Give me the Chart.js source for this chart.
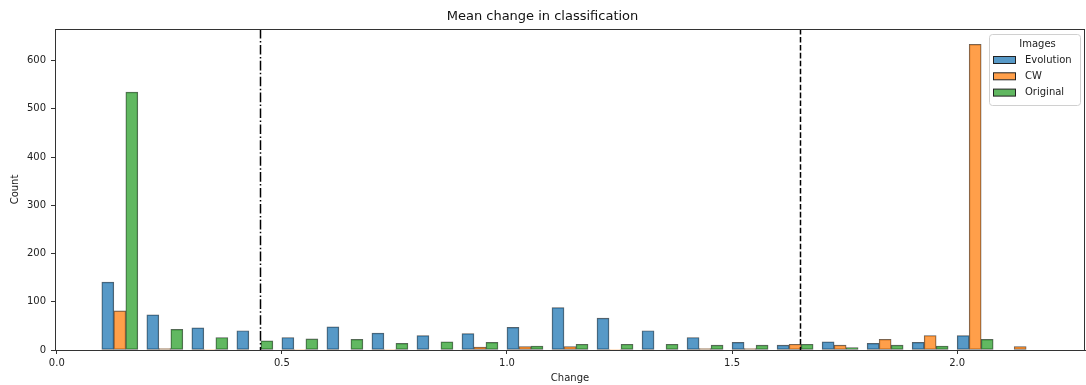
<!DOCTYPE html>
<html>
<head>
<meta charset="utf-8">
<script src="https://cdn.jsdelivr.net/npm/chart.js@4.4.1/dist/chart.umd.min.js"></script>
<style>
  html, body { margin: 0; padding: 0; background: #fff; }
  #wrap { width: 1086px; height: 385px; position: relative; }
</style>
</head>
<body>
<div id="wrap"><canvas id="c" width="1086" height="385"></canvas></div>
<script>
// ---- data ----
const binStarts = [0.1,0.2,0.3,0.4,0.5,0.6,0.7,0.8,0.9,1.0,1.1,1.2,1.3,1.4,1.5,1.6,1.7,1.8,1.9,2.0,2.1];
const evolution = [141,73,46,40,26,48,35,30,34,47,88,66,40,26,16,10,17,14,16,30,0];
const cw        = [81,3,1,0,1,0,1,0,6,7,7,1,0,3,3,12,10,22,30,634,7];
const original  = [535,43,26,19,23,22,14,17,16,8,12,12,12,10,10,12,5,10,8,22,0];
const seriesNames = ['Evolution','CW','Original'];
const xTicks = [0.0,0.5,1.0,1.5,2.0];
const yTicks = [0,100,200,300,400,500,600];
const thresholds = [0.451, 1.65];

const fills = ['rgba(31,119,180,0.75)','rgba(255,127,14,0.75)','rgba(44,160,44,0.75)'];
const edge = 'rgba(40,40,40,0.75)';
const groupWidth = 0.08;
const xMin = -0.004, xMax = 2.284, yMax = 665.7;

function pts(vals, k) {
  const w = groupWidth / 3;
  return vals.map((v, i) => ({ x: binStarts[i] + w * (k + 0.5), y: v }));
}
const allSeries = [evolution, cw, original];
const datasets = allSeries.map((vals, k) => ({
  label: seriesNames[k],
  data: pts(vals, k),
  backgroundColor: fills[k],
  borderColor: edge,
  borderWidth: 0.8,
  grouped: false,
  barThickness: 12,
  borderSkipped: false
}));

const FONT = 'DejaVu Sans';
const extras = {
  id: 'extras',
  afterDatasetsDraw(chart) {
    const {ctx, chartArea: a, scales: {x, y}} = chart;
    ctx.save();
    // threshold lines
    ctx.strokeStyle = '#000';
    ctx.lineWidth = 1.5;
    const dashes = [[9.6,2.4,1.5,2.4],[5.55,2.4]];
    thresholds.forEach((t, i) => {
      const px = Math.round(x.getPixelForValue(t)) + 0.5;
      ctx.setLineDash(dashes[i]);
      ctx.beginPath(); ctx.moveTo(px, a.top); ctx.lineTo(px, a.bottom); ctx.stroke();
    });
    ctx.setLineDash([]);
    // frame
    ctx.strokeStyle = '#333';
    ctx.lineWidth = 1;
    ctx.strokeRect(a.left + 0.5, a.top + 0.5, a.right - a.left - 1, a.bottom - a.top);
    // legend
    const lx = 989, ly = 34, lw = 91, lh = 71;
    ctx.fillStyle = 'rgba(255,255,255,0.85)';
    ctx.strokeStyle = '#d0d0d0';
    ctx.beginPath();
    if (ctx.roundRect) ctx.roundRect(lx + 0.5, ly + 0.5, lw, lh, 3); else ctx.rect(lx + 0.5, ly + 0.5, lw, lh);
    ctx.fill(); ctx.stroke();
    ctx.fillStyle = '#222';
    ctx.font = '10px "' + FONT + '"';
    ctx.textBaseline = 'middle';
    ctx.textAlign = 'center';
    ctx.fillText('Images', lx + lw / 2 + 3, ly + 10);
    ctx.textAlign = 'left';
    seriesNames.forEach((n, i) => {
      const cy = ly + 26 + i * 16.3;
      ctx.fillStyle = '#fff';
      ctx.fillRect(993, cy - 3.5, 22, 7);
      ctx.fillStyle = fills[i];
      ctx.fillRect(993, cy - 3.5, 22, 7);
      ctx.strokeStyle = '#222';
      ctx.lineWidth = 1;
      ctx.strokeRect(993.5, cy - 3.5, 22, 7);
      ctx.fillStyle = '#222';
      ctx.fillText(n, 1025, cy);
    });
    ctx.restore();
  }
};

new Chart(document.getElementById('c'), {
  type: 'bar',
  data: { datasets },
  options: {
    responsive: false,
    animation: false,
    layout: { padding: { left: 0, right: 1, top: 0, bottom: 0 } },
    plugins: {
      legend: { display: false },
      tooltip: { enabled: false },
      title: {
        display: true,
        text: 'Mean change in classification',
        color: '#111',
        font: { family: FONT, size: 13, weight: 'normal', lineHeight: 1.2 },
        padding: { top: 9, bottom: 4.4 }
      }
    },
    scales: {
      x: {
        type: 'linear',
        min: xMin, max: xMax,
        offset: false,
        afterBuildTicks(s) { s.ticks = xTicks.map(v => ({ value: v })); },
        afterFit(s) { s.height = 35; },
        ticks: {
          color: '#222', padding: 3,
          font: { family: FONT, size: 10 },
          callback: v => Number(v).toFixed(1),
          maxRotation: 0, autoSkip: false
        },
        grid: { display: true, offset: false, drawOnChartArea: false, drawTicks: true, tickLength: 4, color: '#333' },
        border: { display: true, color: '#333' },
        title: { display: true, text: 'Change', color: '#222', font: { family: FONT, size: 10 }, padding: { top: 0, bottom: 1 } }
      },
      y: {
        type: 'linear',
        min: 0, max: yMax,
        afterBuildTicks(s) { s.ticks = yTicks.map(v => ({ value: v })); },
        afterFit(s) { s.width = 55; },
        ticks: { color: '#222', padding: 5, font: { family: FONT, size: 10 } },
        grid: { display: true, drawOnChartArea: false, drawTicks: true, tickLength: 4, color: '#333' },
        border: { display: true, color: '#333' },
        title: { display: true, text: 'Count', color: '#222', font: { family: FONT, size: 10 }, padding: { top: 9, bottom: 0 } }
      }
    }
  },
  plugins: [extras]
});
</script>
</body>
</html>
